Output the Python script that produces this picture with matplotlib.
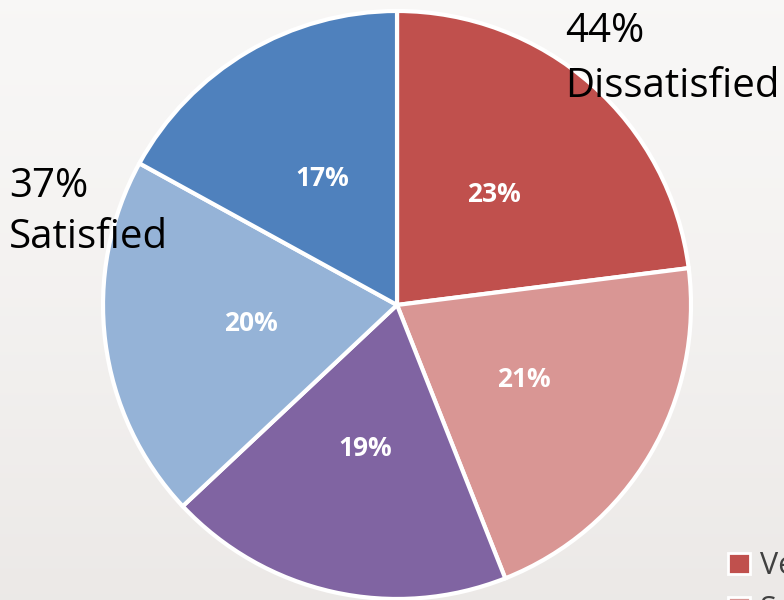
import numpy as np
import matplotlib.pyplot as plt
from matplotlib.patches import Patch

plt.rcParams['font.family'] = ['Open Sans', 'DejaVu Sans']

# satisfaction survey shares, clockwise from 12 o'clock
categories = ['Very Dissatisfied', 'Somewhat Dissatisfied', 'Neutral',
              'Somewhat Satisfied', 'Very Satisfied']
shares = [23, 21, 19, 20, 17]
colors = ['#C0504D', '#D99694', '#8064A2', '#95B3D7', '#4F81BD']

dissatisfied = shares[0] + shares[1]
satisfied = shares[3] + shares[4]

fig = plt.figure(figsize=(7.84, 6), dpi=100)

# soft background gradient, lighter at the top
bg = fig.add_axes([0, 0, 1, 1], zorder=-1)
grad = np.linspace(0, 1, 256).reshape(-1, 1)
top = np.array([0.973, 0.969, 0.965])
bottom = np.array([0.925, 0.914, 0.906])
img = top + (bottom - top) * grad[..., None] ** 1.3
bg.imshow(img, aspect='auto', extent=[0, 1, 0, 1], origin='upper')
bg.axis('off')

ax = fig.add_axes([0.1314, 0.0017, 0.75, 0.98])
wedges, _, autotexts = ax.pie(
    shares, colors=colors, startangle=90, counterclock=False,
    autopct='%d%%', pctdistance=0.5,
    wedgeprops=dict(edgecolor='white', linewidth=3),
    textprops=dict(color='white', fontsize=19, fontweight='bold'))
ax.set_xlim(-1, 1)
ax.set_ylim(-1, 1)
ax.set_aspect('equal')

# group totals, one line per text
def group_label(x, y_first, y_second, pct, name):
    fig.text(x / 784, 1 - y_first / 600, f'{pct}%', fontsize=29,
             ha='left', va='baseline', color='black')
    fig.text(x / 784, 1 - y_second / 600, name, fontsize=29,
             ha='left', va='baseline', color='black')

group_label(565, 42, 97, dissatisfied, 'Dissatisfied')
group_label(9, 197, 248, satisfied, 'Satisfied')

handles = [Patch(facecolor=c, edgecolor='white', linewidth=2) for c in colors]
fig.legend(handles, categories, loc='upper left',
           bbox_to_anchor=(716 / 784, 1 - 538 / 600), frameon=False,
           fontsize=22, labelcolor='#404040', handlelength=0.7,
           handleheight=0.7, handletextpad=0.35, labelspacing=0.45,
           borderaxespad=0)

fig.savefig('out.png', dpi=100)
